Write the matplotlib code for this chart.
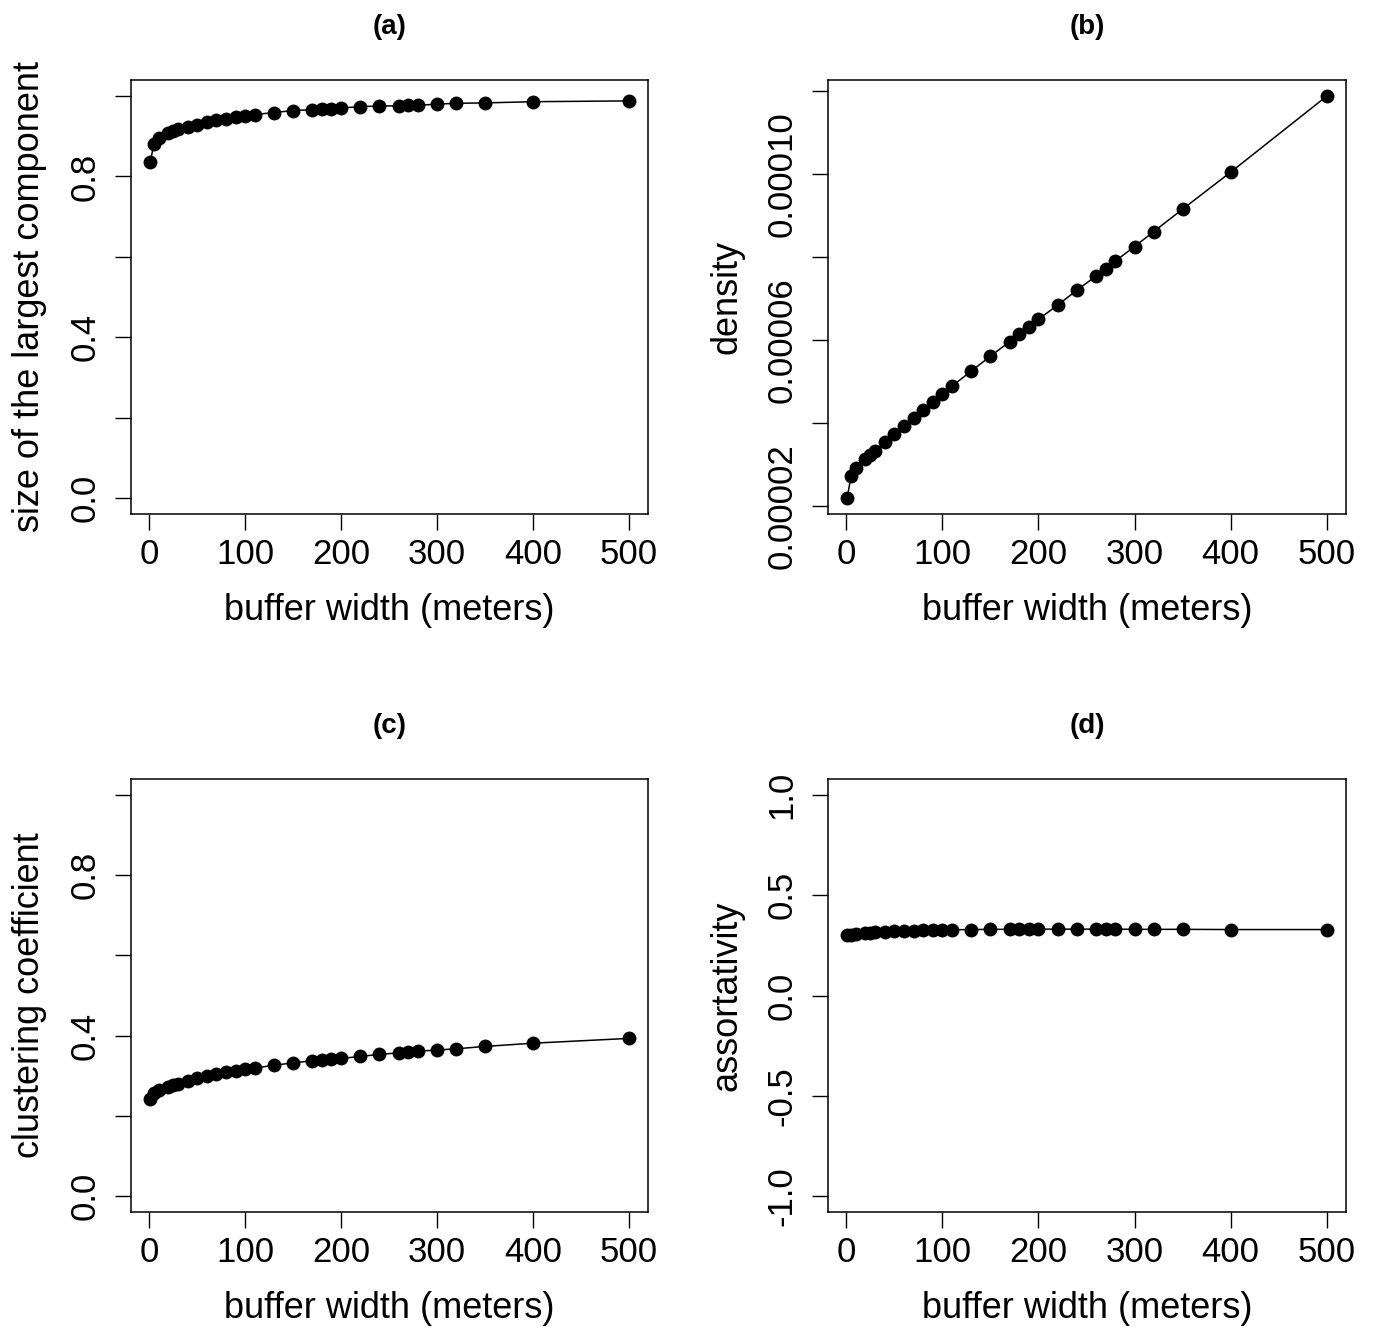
import matplotlib
matplotlib.use("Agg")
import matplotlib.pyplot as plt
import numpy as np

plt.rcParams['font.family'] = ['Liberation Sans', 'DejaVu Sans']

buffer_width = [1, 5, 10, 20, 25, 30, 40, 50, 60, 70, 80, 90, 100, 110, 130,
                150, 170, 180, 190, 200, 220, 240, 260, 270, 280, 300, 320,
                350, 400, 500]

largest_component = [0.835, 0.881, 0.895, 0.908, 0.914, 0.919, 0.924, 0.929,
                     0.936, 0.940, 0.944, 0.948, 0.951, 0.954, 0.959, 0.964,
                     0.966, 0.967, 0.969, 0.970, 0.974, 0.975, 0.976, 0.977,
                     0.977, 0.980, 0.982, 0.983, 0.986, 0.988]

density = [2.20e-5, 2.72e-5, 2.93e-5, 3.13e-5, 3.23e-5, 3.33e-5, 3.54e-5,
           3.74e-5, 3.93e-5, 4.13e-5, 4.32e-5, 4.51e-5, 4.69e-5, 4.89e-5,
           5.25e-5, 5.61e-5, 5.96e-5, 6.14e-5, 6.32e-5, 6.50e-5, 6.84e-5,
           7.20e-5, 7.54e-5, 7.72e-5, 7.90e-5, 8.25e-5, 8.61e-5, 9.15e-5,
           1.004e-4, 1.187e-4]

clustering = [0.242, 0.258, 0.265, 0.272, 0.276, 0.279, 0.286, 0.293, 0.298,
              0.303, 0.308, 0.312, 0.316, 0.319, 0.326, 0.332, 0.337, 0.339,
              0.341, 0.343, 0.348, 0.353, 0.357, 0.359, 0.361, 0.364, 0.367,
              0.373, 0.381, 0.393]

assortativity = [0.300, 0.304, 0.307, 0.311, 0.313, 0.315, 0.318, 0.320,
                 0.322, 0.324, 0.325, 0.326, 0.327, 0.328, 0.329, 0.330,
                 0.330, 0.331, 0.331, 0.331, 0.331, 0.331, 0.331, 0.331,
                 0.331, 0.330, 0.330, 0.330, 0.329, 0.329]

x_ticks = [0, 100, 200, 300, 400, 500]
x_label = "buffer width (meters)"

panels = [
    dict(title="(a)", y=largest_component, ylabel="size of the largest component",
         yticks=[0.0, 0.2, 0.4, 0.6, 0.8, 1.0],
         ytlabels=["0.0", "", "0.4", "", "0.8", ""], ylim=(0, 1)),
    dict(title="(b)", y=density, ylabel="density",
         yticks=[2e-5, 4e-5, 6e-5, 8e-5, 10e-5, 12e-5],
         ytlabels=["0.00002", "", "0.00006", "", "0.00010", ""], ylim=None),
    dict(title="(c)", y=clustering, ylabel="clustering coefficient",
         yticks=[0.0, 0.2, 0.4, 0.6, 0.8, 1.0],
         ytlabels=["0.0", "", "0.4", "", "0.8", ""], ylim=(0, 1)),
    dict(title="(d)", y=assortativity, ylabel="assortativity",
         yticks=[-1.0, -0.5, 0.0, 0.5, 1.0],
         ytlabels=["-1.0", "-0.5", "0.0", "0.5", "1.0"], ylim=(-1, 1)),
]

W, H = 1375, 1330
fig = plt.figure(figsize=(W / 100, H / 100), dpi=100)

boxes = [(131, 80, 648, 514), (828, 80, 1346, 514),
         (131, 779, 648, 1212), (828, 779, 1346, 1212)]
ylab_off = [92, 92, 92, 92]

def r_lim(lo, hi):
    d = (hi - lo) * 0.04
    return lo - d, hi + d

for p, (l, t, r, b), yoff in zip(panels, boxes, ylab_off):
    ax = fig.add_axes([l / W, 1 - b / H, (r - l) / W, (b - t) / H])
    ax.plot(buffer_width, p["y"], color="black", lw=1.1, marker="o",
            markersize=10, markeredgewidth=0)
    ax.set_xlim(*r_lim(min(buffer_width), max(buffer_width)))
    if p["ylim"] is not None:
        ax.set_ylim(*r_lim(*p["ylim"]))
    else:
        ax.set_ylim(*r_lim(min(p["y"]), max(p["y"])))
    ax.set_xticks(x_ticks)
    ax.set_xticklabels([str(v) for v in x_ticks], fontsize=25)
    ax.set_yticks(p["yticks"])
    ax.set_yticklabels(p["ytlabels"], fontsize=25, rotation=90, va="center")
    ax.tick_params(axis="both", direction="out", length=11.5, width=1.0,
                   color="black")
    ax.tick_params(axis="x", pad=6)
    ax.tick_params(axis="y", pad=10)
    for s in ax.spines.values():
        s.set_linewidth(1.1)
    ax.set_xlabel(x_label, fontsize=26)
    ax.xaxis.label.set_verticalalignment("baseline")
    ax.xaxis.set_label_coords(0.5, -106 / (b - t))
    ax.set_ylabel(p["ylabel"], fontsize=26)
    ax.yaxis.label.set_verticalalignment("baseline")
    ax.yaxis.set_label_coords(-yoff / (r - l), 0.5)
    fig.text((l + r) / 2 / W, 1 - (t - 53) / H, p["title"], ha="center",
             va="center", fontsize=20, fontweight="bold")

fig.savefig("out.png", dpi=100)
